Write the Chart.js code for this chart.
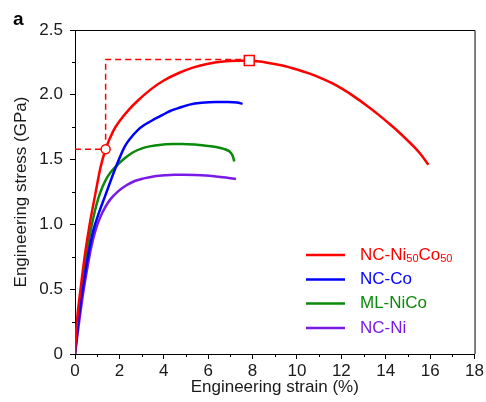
<!DOCTYPE html>
<html>
<head>
<meta charset="utf-8">
<script src="https://cdn.jsdelivr.net/npm/chart.js@4.4.1/dist/chart.umd.min.js"></script>
<style>
  html, body { margin: 0; padding: 0; background: #fff; }
  #wrap { width: 486px; height: 402px; position: relative; }
</style>
</head>
<body>
<div id="wrap"><canvas id="c" width="486" height="402"></canvas></div>
<script>
// Engineering stress-strain curves (strain in %, stress in GPa)
const strainNiCo = [0, 0.07, 0.25, 0.45, 0.65, 0.9, 1.15, 1.38, 1.72, 2.02, 2.4, 2.8, 3.4, 4.0, 4.7, 5.31, 6.0, 6.8, 7.4, 7.85, 8.0, 8.6, 9.34, 10.0, 10.54, 11.0, 11.58, 12.1, 12.63, 13.15, 13.68, 14.1, 14.57, 15.0, 15.32, 15.6, 15.92];
const stressNiCo = [0, 0.22, 0.5, 0.77, 0.99, 1.22, 1.44, 1.58, 1.72, 1.80, 1.88, 1.95, 2.04, 2.11, 2.17, 2.21, 2.24, 2.258, 2.263, 2.265, 2.262, 2.25, 2.226, 2.195, 2.165, 2.135, 2.09, 2.04, 1.98, 1.915, 1.845, 1.785, 1.715, 1.645, 1.59, 1.535, 1.46];

const strainCo = [0, 0.1, 0.3, 0.55, 0.82, 1.1, 1.35, 1.79, 2.24, 2.5, 2.84, 3.1, 3.3, 3.45, 3.66, 3.95, 4.26, 4.7, 5.16, 5.7, 6.35, 6.9, 7.3, 7.55];
const stressCo = [0, 0.17, 0.45, 0.72, 0.95, 1.10, 1.216, 1.42, 1.60, 1.665, 1.73, 1.765, 1.785, 1.80, 1.82, 1.845, 1.873, 1.90, 1.924, 1.938, 1.944, 1.944, 1.94, 1.93];

const strainMLNiCo = [0, 0.1, 0.25, 0.45, 0.65, 0.85, 1.05, 1.25, 1.49, 1.8, 2.24, 2.6, 2.99, 3.36, 3.89, 4.48, 4.86, 5.4, 5.9, 6.35, 6.7, 6.95, 7.07, 7.13, 7.17];
const stressMLNiCo = [0, 0.2, 0.42, 0.68, 0.9, 1.07, 1.2, 1.295, 1.375, 1.44, 1.51, 1.555, 1.585, 1.602, 1.615, 1.62, 1.621, 1.616, 1.607, 1.597, 1.583, 1.564, 1.54, 1.515, 1.486];

const strainNi = [0, 0.15, 0.35, 0.55, 0.75, 0.95, 1.15, 1.35, 1.6, 1.94, 2.3, 2.69, 3.1, 3.59, 4.1, 4.48, 4.86, 5.4, 5.9, 6.35, 6.8, 7.25];
const stressNi = [0, 0.2, 0.45, 0.66, 0.84, 0.97, 1.06, 1.13, 1.195, 1.255, 1.30, 1.335, 1.355, 1.372, 1.38, 1.383, 1.383, 1.381, 1.377, 1.37, 1.362, 1.35];

// Yield point and ultimate tensile point of NC-Ni50Co50
const yieldPoint = [1.38, 1.58];
const utsPoint = [7.85, 2.265];

// Axis ranges and tick labels
const xTicks = [0, 2, 4, 6, 8, 10, 12, 14, 16, 18];
const yTicks = [0, 0.5, 1.0, 1.5, 2.0, 2.5];
const yTickLabels = ['0', '0.5', '1.0', '1.5', '2.0', '2.5'];

const seriesNames = ['NC-Ni50Co50', 'NC-Co', 'ML-NiCo', 'NC-Ni'];
const seriesColors = ['#ff0000', '#0000ff', '#0a8a0a', '#7a1ae6'];

const toXY = (xs, ys) => xs.map((x, i) => ({ x: x, y: ys[i] }));

const curve = (label, xs, ys, color) => ({
  label: label,
  data: toXY(xs, ys),
  showLine: true,
  borderColor: color,
  backgroundColor: color,
  borderWidth: 2.5,
  pointRadius: 0,
  pointHoverRadius: 0,
  cubicInterpolationMode: 'monotone',
  fill: false
});

const FONT = '"Liberation Sans", Arial, sans-serif';

// Frame, minor ticks, panel letter, axis titles and legend
const decorations = {
  id: 'decorations',
  afterDraw(chart) {
    const ctx = chart.ctx;
    const a = chart.chartArea;
    const xs = chart.scales.x, ys = chart.scales.y;
    ctx.save();
    ctx.strokeStyle = '#000';
    ctx.lineWidth = 1;
    ctx.beginPath();
    ctx.moveTo(a.left, a.top + 0.5);
    ctx.lineTo(a.right + 0.5, a.top + 0.5);
    ctx.lineTo(a.right + 0.5, a.bottom);
    ctx.stroke();

    // minor ticks
    ctx.beginPath();
    for (let v = 1; v < 18; v += 2) {
      const px = Math.round(xs.getPixelForValue(v)) + 0.5;
      ctx.moveTo(px, a.bottom);
      ctx.lineTo(px, a.bottom + 3);
    }
    for (let v = 0.25; v < 2.5; v += 0.5) {
      const py = Math.round(ys.getPixelForValue(v)) + 0.5;
      ctx.moveTo(a.left, py);
      ctx.lineTo(a.left - 3, py);
    }
    ctx.stroke();

    // panel letter
    ctx.fillStyle = '#000';
    ctx.font = 'bold 19px ' + FONT;
    ctx.textAlign = 'left';
    ctx.textBaseline = 'alphabetic';
    ctx.fillText('a', 13, 25);

    // axis titles
    ctx.fillStyle = '#1a1a1a';
    ctx.font = '17px ' + FONT;
    ctx.textAlign = 'center';
    ctx.textBaseline = 'middle';
    ctx.fillText('Engineering strain (%)', (a.left + a.right) / 2, 387);
    ctx.save();
    ctx.translate(21, (a.top + a.bottom) / 2);
    ctx.rotate(-Math.PI / 2);
    ctx.fillText('Engineering stress (GPa)', 0, 0);
    ctx.restore();

    // legend
    const rows = [255, 279.5, 303.5, 328];
    ctx.textAlign = 'left';
    ctx.textBaseline = 'middle';
    rows.forEach((ry, i) => {
      ctx.strokeStyle = seriesColors[i];
      ctx.lineWidth = 2.5;
      ctx.beginPath();
      ctx.moveTo(306, ry);
      ctx.lineTo(345, ry);
      ctx.stroke();
      ctx.fillStyle = seriesColors[i];
      if (i === 0) {
        let x = 360;
        const parts = [['NC-Ni', false], ['50', true], ['Co', false], ['50', true]];
        parts.forEach(([t, sub]) => {
          ctx.font = (sub ? '11px ' : '17px ') + FONT;
          ctx.fillText(t, x, sub ? ry + 4 : ry);
          x += ctx.measureText(t).width;
        });
      } else {
        ctx.font = '17px ' + FONT;
        ctx.fillText(seriesNames[i], 360, ry);
      }
    });
    ctx.restore();
  }
};

new Chart(document.getElementById('c'), {
  type: 'scatter',
  data: {
    datasets: [
      {
        label: 'markers',
        data: [{ x: yieldPoint[0], y: yieldPoint[1] }, { x: utsPoint[0], y: utsPoint[1] }],
        pointStyle: ['circle', 'rect'],
        pointRadius: [4.5, 7],
        pointBorderWidth: 1.5,
        pointBorderColor: '#ff0000',
        pointBackgroundColor: '#ffffff',
        showLine: false
      },
      {
        label: 'guide',
        data: [
          { x: 0, y: yieldPoint[1] },
          { x: yieldPoint[0], y: yieldPoint[1] },
          { x: yieldPoint[0], y: utsPoint[1] + 0.008 },
          { x: utsPoint[0], y: utsPoint[1] + 0.008 }
        ],
        showLine: true,
        borderColor: '#ff0000',
        borderWidth: 1.5,
        borderDash: [6, 4],
        pointRadius: 0,
        tension: 0
      },
      curve(seriesNames[0], strainNiCo, stressNiCo, seriesColors[0]),
      curve(seriesNames[1], strainCo, stressCo, seriesColors[1]),
      curve(seriesNames[2], strainMLNiCo, stressMLNiCo, seriesColors[2]),
      curve(seriesNames[3], strainNi, stressNi, seriesColors[3])
    ]
  },
  options: {
    responsive: false,
    animation: false,
    events: [],
    layout: { padding: { top: 30, right: 9, left: 0, bottom: 0 } },
    plugins: { legend: { display: false }, tooltip: { enabled: false } },
    scales: {
      x: {
        type: 'linear',
        min: 0,
        max: 18,
        afterFit(scale) { scale.height = 48; },
        afterBuildTicks(scale) { scale.ticks = xTicks.map(v => ({ value: v })); },
        border: { color: '#000', width: 1 },
        grid: { drawOnChartArea: false, color: '#000', tickLength: 5, tickWidth: 1 },
        ticks: {
          color: '#1a1a1a',
          font: { family: FONT, size: 17 },
          padding: 2,
          maxRotation: 0,
          autoSkip: false,
          callback: v => String(v)
        }
      },
      y: {
        type: 'linear',
        min: 0,
        max: 2.5,
        afterFit(scale) { scale.width = 75; },
        afterBuildTicks(scale) { scale.ticks = yTicks.map(v => ({ value: v })); },
        border: { color: '#000', width: 1 },
        grid: { drawOnChartArea: false, color: '#000', tickLength: 5, tickWidth: 1 },
        ticks: {
          color: '#1a1a1a',
          font: { family: FONT, size: 17 },
          padding: 7,
          autoSkip: false,
          callback: (v) => yTickLabels[yTicks.indexOf(v)] ?? ''
        }
      }
    }
  },
  plugins: [decorations]
});
</script>
</body>
</html>
